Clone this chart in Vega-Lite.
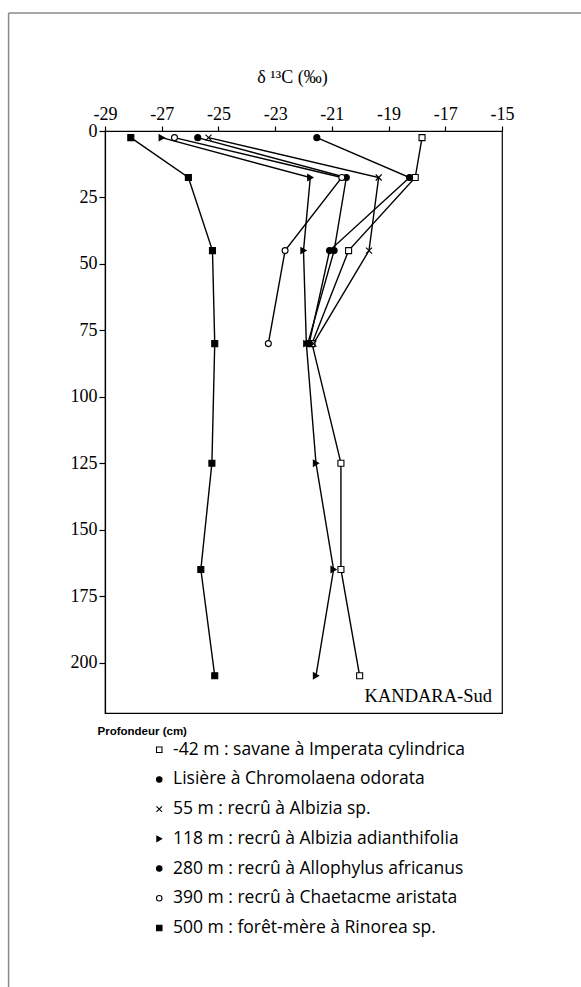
{
  "$schema": "https://vega.github.io/schema/vega-lite/v6.json",
  "autosize": {"type": "none"},
  "padding": {"left": 105, "top": 131, "right": 79, "bottom": 274},
  "width": 397,
  "height": 582,
  "background": "white",
  "config": {
    "view": {"stroke": "black", "strokeWidth": 1.2},
    "axis": {"grid": false, "domainColor": "black", "tickColor": "black", "labelColor": "black", "titleColor": "black", "domainWidth": 1.2, "tickWidth": 1.2}
  },
  "datasets": {
    "profiles": [
      {"series": "-42 m : savane à Imperata cylindrica", "depth": 2.5, "d13C": -17.82},
      {"series": "-42 m : savane à Imperata cylindrica", "depth": 17.5, "d13C": -18.06},
      {"series": "-42 m : savane à Imperata cylindrica", "depth": 45, "d13C": -20.41},
      {"series": "-42 m : savane à Imperata cylindrica", "depth": 80, "d13C": -21.7},
      {"series": "-42 m : savane à Imperata cylindrica", "depth": 125, "d13C": -20.68},
      {"series": "-42 m : savane à Imperata cylindrica", "depth": 165, "d13C": -20.68},
      {"series": "-42 m : savane à Imperata cylindrica", "depth": 205, "d13C": -20.02},
      {"series": "Lisière à Chromolaena odorata", "depth": 2.5, "d13C": -21.53},
      {"series": "Lisière à Chromolaena odorata", "depth": 17.5, "d13C": -18.26},
      {"series": "Lisière à Chromolaena odorata", "depth": 45, "d13C": -21.08},
      {"series": "Lisière à Chromolaena odorata", "depth": 80, "d13C": -21.8},
      {"series": "55 m : recrû à Albizia sp.", "depth": 2.5, "d13C": -25.35},
      {"series": "55 m : recrû à Albizia sp.", "depth": 17.5, "d13C": -19.35},
      {"series": "55 m : recrû à Albizia sp.", "depth": 45, "d13C": -19.69},
      {"series": "55 m : recrû à Albizia sp.", "depth": 80, "d13C": -21.65},
      {"series": "118 m : recrû à Albizia adianthifolia", "depth": 2.5, "d13C": -27.0},
      {"series": "118 m : recrû à Albizia adianthifolia", "depth": 17.5, "d13C": -21.76},
      {"series": "118 m : recrû à Albizia adianthifolia", "depth": 45, "d13C": -22.0},
      {"series": "118 m : recrû à Albizia adianthifolia", "depth": 80, "d13C": -21.9},
      {"series": "118 m : recrû à Albizia adianthifolia", "depth": 125, "d13C": -21.56},
      {"series": "118 m : recrû à Albizia adianthifolia", "depth": 165, "d13C": -20.94},
      {"series": "118 m : recrû à Albizia adianthifolia", "depth": 205, "d13C": -21.56},
      {"series": "280 m : recrû à Allophylus africanus", "depth": 2.5, "d13C": -25.73},
      {"series": "280 m : recrû à Allophylus africanus", "depth": 17.5, "d13C": -20.49},
      {"series": "280 m : recrû à Allophylus africanus", "depth": 45, "d13C": -20.92},
      {"series": "280 m : recrû à Allophylus africanus", "depth": 80, "d13C": -21.85},
      {"series": "390 m : recrû à Chaetacme aristata", "depth": 2.5, "d13C": -26.55},
      {"series": "390 m : recrû à Chaetacme aristata", "depth": 17.5, "d13C": -20.65},
      {"series": "390 m : recrû à Chaetacme aristata", "depth": 45, "d13C": -22.65},
      {"series": "390 m : recrû à Chaetacme aristata", "depth": 80, "d13C": -23.24},
      {"series": "500 m : forêt-mère à Rinorea sp.", "depth": 2.5, "d13C": -28.09},
      {"series": "500 m : forêt-mère à Rinorea sp.", "depth": 17.5, "d13C": -26.06},
      {"series": "500 m : forêt-mère à Rinorea sp.", "depth": 45, "d13C": -25.21},
      {"series": "500 m : forêt-mère à Rinorea sp.", "depth": 80, "d13C": -25.13},
      {"series": "500 m : forêt-mère à Rinorea sp.", "depth": 125, "d13C": -25.23},
      {"series": "500 m : forêt-mère à Rinorea sp.", "depth": 165, "d13C": -25.62},
      {"series": "500 m : forêt-mère à Rinorea sp.", "depth": 205, "d13C": -25.13}
    ]
  },
  "layer": [
    {
      "data": {"values": [{}]},
      "mark": {"type": "rule", "color": "#8a8a8a", "strokeWidth": 1.5},
      "encoding": {
        "x": {"datum": -32.4, "type": "quantitative", "scale": {"domain": [-29, -15], "nice": false, "zero": false}},
        "y": {"datum": -44.4, "type": "quantitative", "scale": {"domain": [0, 219], "nice": false, "reverse": true, "zero": false}},
        "y2": {"datum": 330}
      }
    },
    {
      "data": {"values": [{}]},
      "mark": {"type": "rule", "color": "#8a8a8a", "strokeWidth": 1.5},
      "encoding": {
        "x": {"datum": -32.4, "type": "quantitative"},
        "x2": {"datum": -12.0},
        "y": {"datum": -44.4, "type": "quantitative"}
      }
    },
    {
      "data": {"name": "profiles"},
      "mark": {"type": "line", "color": "black", "strokeWidth": 1.4},
      "encoding": {
        "x": {
          "field": "d13C", "type": "quantitative",
          "scale": {"domain": [-29, -15], "nice": false, "zero": false},
          "axis": {
            "orient": "top",
            "values": [-29, -28, -27, -26, -25, -24, -23, -22, -21, -20, -19, -18, -17, -16, -15],
            "labelExpr": "abs(datum.value) % 2 == 1 ? toString(datum.value) : ''",
            "tickSize": {"condition": {"test": "abs(datum.value) % 2 == 1", "value": 5}, "value": 3},
            "labelFont": "Liberation Serif", "labelFontSize": 18, "labelPadding": 3,
            "labelFlush": false, "labelOverlap": false,
            "title": "δ ¹³C (‰)",
            "titleFont": "Liberation Serif", "titleFontSize": 18, "titleFontWeight": "normal",
            "titleX": 187, "titleY": -49, "titleAlign": "center", "titleBaseline": "alphabetic", "titleAnchor": null
          }
        },
        "y": {
          "field": "depth", "type": "quantitative",
          "scale": {"domain": [0, 219], "nice": false, "reverse": true, "zero": false},
          "axis": {
            "orient": "left",
            "values": [0, 12.5, 25, 37.5, 50, 62.5, 75, 87.5, 100, 112.5, 125, 137.5, 150, 162.5, 175, 187.5, 200, 212.5],
            "labelExpr": "datum.value % 25 == 0 ? toString(datum.value) : ''",
            "tickSize": {"condition": {"test": "datum.value % 25 == 0", "value": 6}, "value": 3},
            "labelFont": "Liberation Serif", "labelFontSize": 18, "labelPadding": 2,
            "labelFlush": false, "labelOverlap": false,
            "title": "Profondeur (cm)",
            "titleFont": "Liberation Sans", "titleFontSize": 11.5, "titleFontWeight": "bold",
            "titleAngle": 0, "titleX": -8, "titleY": 603, "titleAlign": "left", "titleBaseline": "alphabetic"
          }
        },
        "detail": {"field": "series"},
        "order": {"field": "depth"}
      }
    },
    {
      "data": {"name": "profiles"},
      "mark": {"type": "point", "filled": false, "strokeWidth": 1.1, "size": 36, "opacity": 1},
      "encoding": {
        "x": {"field": "d13C", "type": "quantitative"},
        "y": {"field": "depth", "type": "quantitative"},
        "shape": {
          "field": "series", "type": "nominal",
          "scale": {
            "domain": ["-42 m : savane à Imperata cylindrica", "Lisière à Chromolaena odorata", "55 m : recrû à Albizia sp.", "118 m : recrû à Albizia adianthifolia", "280 m : recrû à Allophylus africanus", "390 m : recrû à Chaetacme aristata", "500 m : forêt-mère à Rinorea sp."],
            "range": ["square", "circle", "M-1,-1L1,1M-1,1L1,-1", "triangle-right", "circle", "circle", "square"]
          },
          "legend": {
            "orient": "none", "legendX": 45.5, "legendY": 610, "title": null, "padding": 0,
            "labelFont": "Open Sans", "labelFontSize": 17.5, "labelColor": "black", "labelOffset": 5,
            "rowPadding": 10.7, "symbolSize": 30, "symbolStrokeWidth": 1.1,
            "labelLimit": 400
          }
        },
        "fill": {
          "field": "series", "type": "nominal",
          "scale": {
            "domain": ["-42 m : savane à Imperata cylindrica", "Lisière à Chromolaena odorata", "55 m : recrû à Albizia sp.", "118 m : recrû à Albizia adianthifolia", "280 m : recrû à Allophylus africanus", "390 m : recrû à Chaetacme aristata", "500 m : forêt-mère à Rinorea sp."],
            "range": ["white", "black", "black", "black", "black", "white", "black"]
          },
          "legend": {
            "orient": "none", "legendX": 45.5, "legendY": 610, "title": null, "padding": 0,
            "labelFont": "Open Sans", "labelFontSize": 17.5, "labelColor": "black", "labelOffset": 5,
            "rowPadding": 10.7, "symbolSize": 30, "symbolStrokeWidth": 1.1,
            "labelLimit": 400
          }
        },
        "stroke": {
          "field": "series", "type": "nominal",
          "scale": {
            "domain": ["-42 m : savane à Imperata cylindrica", "Lisière à Chromolaena odorata", "55 m : recrû à Albizia sp.", "118 m : recrû à Albizia adianthifolia", "280 m : recrû à Allophylus africanus", "390 m : recrû à Chaetacme aristata", "500 m : forêt-mère à Rinorea sp."],
            "range": ["black", "black", "black", "black", "black", "black", "black"]
          },
          "legend": {
            "orient": "none", "legendX": 45.5, "legendY": 610, "title": null, "padding": 0,
            "labelFont": "Open Sans", "labelFontSize": 17.5, "labelColor": "black", "labelOffset": 5,
            "rowPadding": 10.7, "symbolSize": 30, "symbolStrokeWidth": 1.1,
            "labelLimit": 400
          }
        }
      }
    },
    {
      "data": {"values": [{}]},
      "mark": {"type": "text", "text": "KANDARA-Sud", "align": "right", "baseline": "alphabetic", "font": "Liberation Serif", "fontSize": 18.5, "dx": -10, "color": "black"},
      "encoding": {
        "x": {"datum": -15, "type": "quantitative"},
        "y": {"datum": 214.7, "type": "quantitative"}
      }
    }
  ]
}
